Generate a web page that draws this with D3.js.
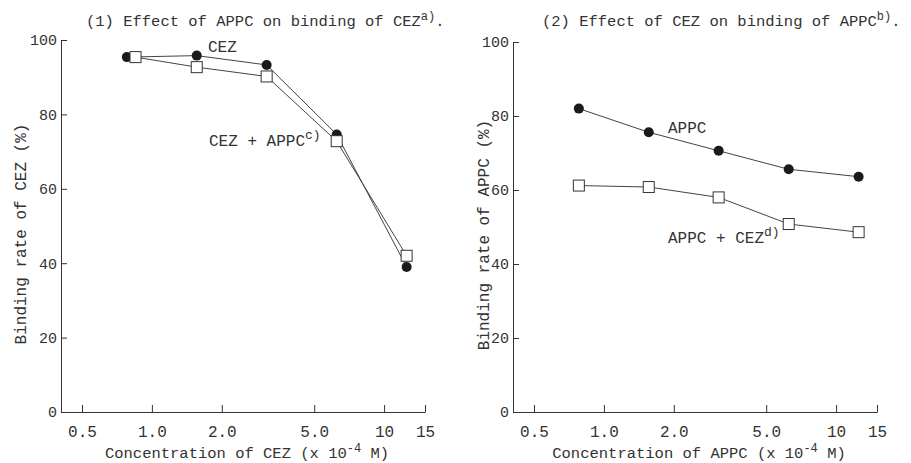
<!DOCTYPE html>
<html>
<head>
<meta charset="utf-8">
<script src="https://cdn.jsdelivr.net/npm/d3@7"></script>
<style>
  body { margin: 0; background: #fff; }
  text { font-family: "Liberation Mono", "DejaVu Sans Mono", monospace; fill: #333; }
</style>
</head>
<body>
<div id="content"></div>
<script>
// dimensiones
var width = 911;
var height = 463;

// datos
var xTicks = [0.5, 1.0, 2.0, 5.0, 10, 15];
var xTickLabels = ["0.5", "1.0", "2.0", "5.0", "10", "15"];
var yTicks = [0, 20, 40, 60, 80, 100];

// (1) binding of CEZ
var conc1 = [0.78, 1.56, 3.12, 6.25, 12.5];
var concSq1 = [0.85, 1.56, 3.12, 6.25, 12.5];
var cezAlone = [95.4, 95.8, 93.3, 74.6, 39.0];
var cezPlusAppc = [95.4, 92.7, 90.2, 72.8, 42.0];

// (2) binding of APPC
var conc2 = [0.78, 1.56, 3.12, 6.25, 12.5];
var appcAlone = [82.0, 75.6, 70.6, 65.6, 63.6];
var appcPlusCez = [61.2, 60.8, 58.0, 50.8, 48.6];

var svg = d3.select("#content")
  .append("svg")
  .attr("width", width)
  .attr("height", height);

var ink = "#333";

function panel(opt) {
  var x = d3.scaleLog().domain([0.406, 15]).range([opt.left, opt.right]);
  var y = d3.scaleLinear().domain([0, 100]).range([opt.bottom, opt.top]);
  var g = svg.append("g");

  // eje x
  var xAxis = d3.axisBottom(x)
    .tickValues(xTicks)
    .tickFormat(function(d, i) { return xTickLabels[i]; })
    .tickSizeInner(-7)
    .tickSizeOuter(0)
    .tickPadding(14);
  var gx = g.append("g")
    .attr("transform", "translate(0," + opt.bottom + ")")
    .call(xAxis);
  gx.select(".domain").attr("stroke", ink);
  gx.selectAll(".tick line").attr("stroke", ink);
  gx.selectAll(".tick text").style("font-size", "16px").attr("fill", ink);

  // eje y
  var yAxis = d3.axisLeft(y)
    .tickValues(yTicks)
    .tickSizeInner(-6)
    .tickSizeOuter(0)
    .tickPadding(4);
  var gy = g.append("g")
    .attr("transform", "translate(" + opt.left + ",0)")
    .call(yAxis);
  gy.select(".domain").attr("stroke", ink);
  gy.selectAll(".tick line").attr("stroke", ink);
  gy.selectAll(".tick text").style("font-size", "15px").attr("fill", ink);

  var line = d3.line()
    .x(function(d) { return x(d[0]); })
    .y(function(d) { return y(d[1]); });

  var circ = d3.zip(opt.cx, opt.cy);
  var sq = d3.zip(opt.sx, opt.sy);

  g.append("path").datum(circ).attr("d", line)
    .attr("fill", "none").attr("stroke", "#444").attr("stroke-width", 1);
  g.append("path").datum(sq).attr("d", line)
    .attr("fill", "none").attr("stroke", "#444").attr("stroke-width", 1);

  g.selectAll(".dot").data(circ).enter().append("circle")
    .attr("cx", function(d) { return x(d[0]); })
    .attr("cy", function(d) { return y(d[1]); })
    .attr("r", 5)
    .attr("fill", "#1a1a1a");

  g.selectAll(".sq").data(sq).enter().append("rect")
    .attr("x", function(d) { return x(d[0]) - 5.5; })
    .attr("y", function(d) { return y(d[1]) - 5.5; })
    .attr("width", 11)
    .attr("height", 11)
    .attr("fill", "#fff")
    .attr("stroke", "#333")
    .attr("stroke-width", 1);

  // titulo
  var t = g.append("text")
    .attr("x", opt.titleX)
    .attr("y", 26)
    .style("font-size", "15.5px")
    .text(opt.title);
  t.append("tspan").attr("dy", -6).style("font-size", "12px").text(opt.titleSup);
  t.append("tspan").attr("dy", 6).text(".");

  // etiqueta eje x
  var xl = g.append("text")
    .attr("x", (opt.left + opt.right) / 2 + 4)
    .attr("y", 458)
    .attr("text-anchor", "middle")
    .style("font-size", "15.5px")
    .text("Concentration of " + opt.xName + " (x 10");
  xl.append("tspan").attr("dy", -6).style("font-size", "12px").text("-4");
  xl.append("tspan").attr("dy", 6).text(" M)");

  // etiqueta eje y
  g.append("text")
    .attr("transform", "translate(" + (opt.left - opt.yLabelOff) + "," + ((opt.top + opt.bottom) / 2 + 8) + ") rotate(-90)")
    .attr("text-anchor", "middle")
    .attr("dy", "0.35em")
    .style("font-size", "16px")
    .text("Binding rate of " + opt.yName + " (%)");

  // etiquetas de series
  opt.labels.forEach(function(l) {
    var tx = g.append("text")
      .attr("x", l.x).attr("y", l.y)
      .style("font-size", "16px")
      .text(l.text);
    if (l.sup) tx.append("tspan").attr("dy", -7).style("font-size", "13px").text(l.sup);
  });
}

panel({
  left: 61, right: 425, top: 40, bottom: 412,
  cx: conc1, cy: cezAlone, sx: concSq1, sy: cezPlusAppc,
  title: "(1) Effect of APPC on binding of CEZ", titleSup: "a)", titleX: 86,
  xName: "CEZ", yName: "CEZ", yLabelOff: 41,
  labels: [
    { x: 208, y: 52, text: "CEZ" },
    { x: 209, y: 146, text: "CEZ + APPC", sup: "c)" }
  ]
});

panel({
  left: 513, right: 877, top: 42, bottom: 412,
  cx: conc2, cy: appcAlone, sx: conc2, sy: appcPlusCez,
  title: "(2) Effect of CEZ on binding of APPC", titleSup: "b)", titleX: 542,
  xName: "APPC", yName: "APPC", yLabelOff: 30,
  labels: [
    { x: 668, y: 133, text: "APPC" },
    { x: 668, y: 243, text: "APPC + CEZ", sup: "d)" }
  ]
});
</script>
</body>
</html>
